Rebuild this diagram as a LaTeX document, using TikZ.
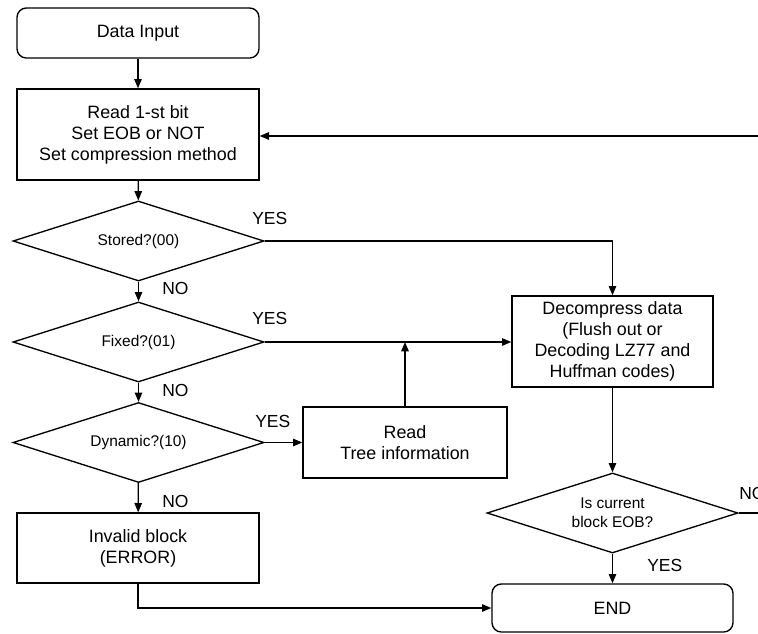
\documentclass[tikz,border=0pt]{standalone}
\usepackage{fontspec}
\setmainfont{Liberation Sans}
\usetikzlibrary{shapes.geometric,arrows.meta,calc}

\tikzset{
  every picture/.style={x=0.75pt,y=-0.75pt},
  line/.style={line width=1pt,black},
  arr/.style={line, -{Triangle[length=7pt,width=5.6pt]}},
  boxtxt/.style={font=\fontsize{13.4}{15.75}\selectfont, align=center},
  stepbox/.style={draw, line width=1pt, rectangle, inner sep=0pt, boxtxt},
  termbox/.style={stepbox, rounded corners=7pt},
  decide/.style={draw, line width=1pt, diamond, inner sep=0pt, aspect=3.1,
    minimum width=188.25pt, minimum height=60pt,
    font=\fontsize{11.6}{14.25}\selectfont, align=center},
  lbl/.style={font=\fontsize{13.1}{15}\selectfont, inner sep=0pt, anchor=west}
}

\begin{document}
\begin{tikzpicture}
\useasboundingbox (0,0) rectangle (758,633);

% left column
\node[termbox, minimum width=181.5pt, minimum height=37.5pt] (input) at (138,33) {Data Input};
\node[stepbox, minimum width=181.5pt, minimum height=68.25pt] (readbit) at (138,134.5)
  {Read 1-st bit\\Set EOB or NOT\\Set compression method};
\node[decide] (stored) at (138.5,241) {Stored?(00)};
\node[decide] (fixed) at (138.5,342) {Fixed?(01)};
\node[decide] (dynamic) at (138.5,442.5) {Dynamic?(10)};
\node[stepbox, minimum width=181.5pt, minimum height=52.5pt] (invalid) at (138,548)
  {Invalid block\\(ERROR)};

% middle and right column
\node[stepbox, minimum width=153pt, minimum height=53.25pt] (tree) at (405,442.5)
  {Read\\Tree information};
\node[stepbox, minimum width=150.75pt, minimum height=68.25pt] (decomp) at (612.5,341.5)
  {Decompress data\\(Flush out or\\Decoding LZ77 and\\Huffman codes)};
\node[decide] (eob) at (612.5,513) {Is current\\block EOB?};
\node[termbox, minimum width=180.75pt, minimum height=36pt] (finish) at (612.5,608) {END};

% loose ends at the right border
\coordinate (loopin) at (770,136);
\coordinate (loopout) at (770,513);

% connectors
\draw[arr] (input) -- (readbit);
\draw[arr] (loopin) -- (readbit.east |- loopin);
\draw[arr] (readbit) -- (stored);
\draw[arr] (stored) -- (fixed);
\draw[arr] (fixed) -- (dynamic);
\draw[arr] (dynamic) -- (invalid);
\draw[arr] (stored.east) -| (decomp.north);
\draw[arr] (fixed.east) -- (decomp.west |- fixed.east);
\draw[arr] (tree.north) -- (tree.north |- fixed.east);
\draw[arr] (dynamic.east) -- (tree.west |- dynamic.east);
\draw[arr] (decomp) -- (eob);
\draw[arr] (eob) -- (finish);
\draw[line] (eob.east) -- (loopout);
\draw[arr] (invalid.south) |- (finish.west);

% branch labels
\node[lbl] at (162,288) {NO};
\node[lbl] at (162,390) {NO};
\node[lbl] at (162,501) {NO};
\node[lbl] at (252,218) {YES};
\node[lbl] at (252,318) {YES};
\node[lbl] at (255,421) {YES};
\node[lbl] at (647,565) {YES};
\node[lbl] at (739,493) {NO};
\end{tikzpicture}
\end{document}
